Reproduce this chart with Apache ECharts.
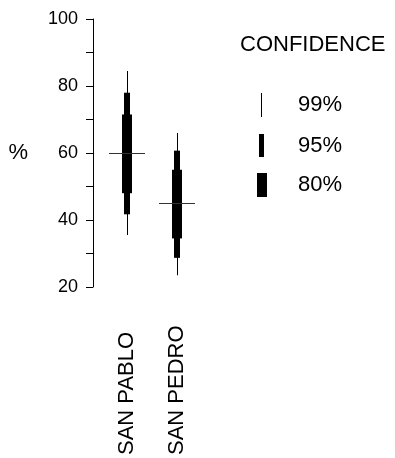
<!DOCTYPE html>
<html>
<head>
<meta charset="utf-8">
<style>html,body{margin:0;padding:0;background:#fff}#c{width:395px;height:458px}</style>
<script src="https://cdn.jsdelivr.net/npm/echarts@6/dist/echarts.min.js"></script>
</head>
<body>
<div id="c"></div>
<script>
const categories = ['SAN PABLO', 'SAN PEDRO'];
const median = [60, 45];
const ci99Low = [35.5, 23.5];
const ci99High = [84.5, 66];
const ci95Low = [41.7, 28.7];
const ci95High = [78, 60.7];
const ci80Low = [48, 34.5];
const ci80High = [71.5, 55];
const yTicks = [20, 40, 60, 80, 100];

const FONT = 'Liberation Sans, Arial, sans-serif';

function rangeData(lo, hi) {
  return categories.map((c, i) => [i, lo[i], hi[i]]);
}
function rangeRenderer(w) {
  return function (params, api) {
    const x = api.value(0);
    const top = api.coord([x, api.value(2)]);
    const bot = api.coord([x, api.value(1)]);
    return {
      type: 'rect',
      shape: { x: Math.round(top[0] - w / 2), y: top[1], width: w, height: bot[1] - top[1] },
      style: { fill: '#000' }
    };
  };
}

const chart = echarts.init(document.getElementById('c'), null, { renderer: 'canvas' });
chart.setOption({
  animation: false,
  backgroundColor: '#fff',
  textStyle: { fontFamily: FONT, color: '#000' },
  title: {
    text: 'CONFIDENCE', left: 240, top: 34, padding: 0,
    textStyle: { fontFamily: FONT, fontSize: 22, fontWeight: 'normal', color: '#000' }
  },
  legend: [
    { data: [{ name: '99%', icon: 'rect' }], left: 261, top: 93, padding: 0, itemWidth: 1, itemHeight: 24,
      textStyle: { fontFamily: FONT, fontSize: 22, color: '#000', padding: [0, 0, 0, 31] }, selectedMode: false },
    { data: [{ name: '95%', icon: 'rect' }], left: 259, top: 134, padding: 0, itemWidth: 5, itemHeight: 23,
      textStyle: { fontFamily: FONT, fontSize: 22, color: '#000', padding: [0, 0, 0, 29] }, selectedMode: false },
    { data: [{ name: '80%', icon: 'rect' }], left: 257, top: 173, padding: 0, itemWidth: 10, itemHeight: 24,
      textStyle: { fontFamily: FONT, fontSize: 22, color: '#000', padding: [0, 0, 0, 26] }, selectedMode: false }
  ],
  grid: { left: 127, right: 218, top: 19, bottom: 170 },
  xAxis: {
    type: 'category', data: categories, boundaryGap: false,
    axisLine: { show: false }, axisTick: { show: false }, splitLine: { show: false },
    axisLabel: { rotate: 90, margin: 168, align: 'left', verticalAlign: 'middle', fontFamily: FONT, fontSize: 22, color: '#000' }
  },
  yAxis: {
    type: 'value', min: yTicks[0], max: yTicks[yTicks.length - 1], interval: 20, offset: 34,
    name: '%', nameLocation: 'middle', nameRotate: 0, nameGap: 65,
    nameTextStyle: { fontFamily: FONT, fontSize: 22, color: '#000' },
    axisLine: { show: true, lineStyle: { color: '#000', width: 1 } },
    axisTick: { show: true, length: 7, lineStyle: { color: '#000' } },
    minorTick: { show: true, splitNumber: 2, length: 7, lineStyle: { color: '#000' } },
    splitLine: { show: false }, minorSplitLine: { show: false },
    axisLabel: { margin: 15, fontFamily: FONT, fontSize: 18, color: '#000' }
  },
  series: [
    { name: '99%', type: 'custom', itemStyle: { color: '#000' }, renderItem: rangeRenderer(1),
      encode: { x: 0, y: [1, 2] }, data: rangeData(ci99Low, ci99High), z: 1 },
    { name: '95%', type: 'custom', itemStyle: { color: '#000' }, renderItem: rangeRenderer(6),
      encode: { x: 0, y: [1, 2] }, data: rangeData(ci95Low, ci95High), z: 2 },
    { name: '80%', type: 'custom', itemStyle: { color: '#000' }, renderItem: rangeRenderer(10),
      encode: { x: 0, y: [1, 2] }, data: rangeData(ci80Low, ci80High), z: 3 },
    { name: 'median', type: 'custom', itemStyle: { color: '#333' },
      renderItem: function (params, api) {
        const p = api.coord([api.value(0), api.value(1)]);
        const y = Math.round(p[1]) + 0.5;
        return { type: 'line', shape: { x1: p[0] - 18, y1: y, x2: p[0] + 18, y2: y },
          style: { stroke: '#333', lineWidth: 1 } };
      },
      encode: { x: 0, y: 1 }, data: categories.map((c, i) => [i, median[i]]), z: 4 }
  ]
});
</script>
</body>
</html>
